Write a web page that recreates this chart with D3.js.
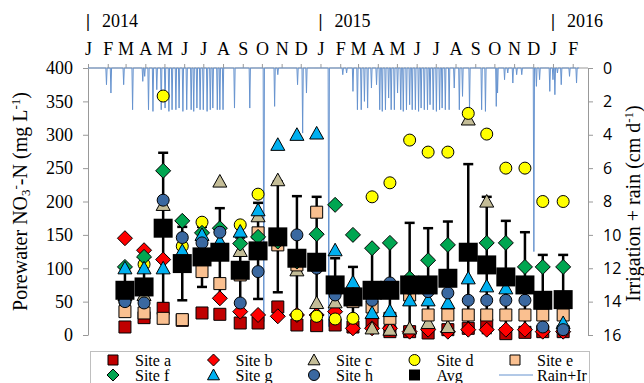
<!DOCTYPE html>
<html lang="en">
<head>
<meta charset="UTF-8" />
<title>Porewater NO3-N and irrigation + rain</title>
<script src="https://d3js.org/d3.v7.min.js"></script>
<style>
  body { margin: 0; background: #fff; }
  svg { display: block; }
  .serif { font-family: "Liberation Serif", "Times New Roman", serif; }
  .sans { font-family: "Open Sans", "Noto Sans", sans-serif; }
</style>
</head>
<body>
<svg id="chart"></svg>
<script>
// sampling dates (one per month)
const sampleDates = [
  "2014-02-28", "2014-03-30", "2014-04-29", "2014-05-29", "2014-06-29", "2014-07-27",
  "2014-08-28", "2014-09-25", "2014-10-26", "2014-11-25", "2014-12-26", "2015-01-24",
  "2015-02-21", "2015-03-23", "2015-04-20", "2015-05-21", "2015-06-19", "2015-07-20",
  "2015-08-21", "2015-09-19", "2015-10-19", "2015-11-18", "2015-12-16", "2016-01-17"
];

// porewater NO3-N, mg/L
const siteA = [12, 26, 40, 22, 33, 31, 18, 18, 42, 15, 14, 15, 12, 18, 5, 5, 3, 8, 10, 15, 2, 4, 5, 5];
const siteB = [145, 127, 113, 110, 118, 55, 35, 30, 28, 30, 30, 35, 10, 10, 10, 5, 8, 5, 8, 8, 8, 8, 5, 5];
const siteC = [60, 60, 195, 120, 115, 230, 126, 178, 232, 97, 48, 49, 60, 10, 8, 10, 18, 12, 323, 200, 85, 75, 55, 50];
const siteD = [50, 106, 358, 133, 169, 120, 165, 211, 145, 30, 28, 24, 25, 207, 228, 292, 274, 274, 332, 301, 250, 250, 200, 200];
const siteE = [35, 33, 25, 23, 95, 77, 90, 153, 135, 105, 184, 70, 50, 42, 25, 60, 30, 30, 30, 30, 30, 30, 30, 30];
const siteF = [102, 117, 246, 171, 153, 160, 137, 147, 140, 110, 151, 195, 150, 130, 138, 85, 112, 135, 125, 138, 138, 102, 102, 102];
const siteG = [100, 100, 100, 126, 150, 140, 155, 187, 285, 300, 302, 127, 79, 33, 36, 52, 52, 48, 85, 73, 70, 72, 50, 18];
const siteH = [50, 48, 202, 146, 138, 154, 48, 95, 145, 150, 100, 60, 55, 52, 78, 70, 65, 63, 52, 52, 52, 52, 12, 8];
const avgNO3 = [67, 72, 160, 107, 117, 124, 97, 126, 147, 115, 109, 75, 57, 67, 67, 75, 75, 85, 124, 105, 87, 75, 52, 53];
const sdNO3 = [35, 30, 113, 55, 45, 66, 49, 72, 83, 93, 98, 40, 45, 63, 70, 93, 85, 85, 132, 102, 84, 79, 68, 67];

// irrigation + rain events, cm/d (other days 0)
const rainEvents = [
  ["2014-01-30", 1.0], ["2014-02-06", 1.5], ["2014-02-26", 1.0], ["2014-03-12", 2.5],
  ["2014-03-28", 0.8], ["2014-03-31", 0.5], ["2014-04-06", 2.5], ["2014-04-13", 2.6],
  ["2014-04-19", 1.3], ["2014-04-26", 2.5], ["2014-05-02", 2.4], ["2014-05-08", 2.6],
  ["2014-05-13", 2.5], ["2014-05-19", 2.5], ["2014-05-24", 2.4], ["2014-05-30", 2.6],
  ["2014-06-05", 2.5], ["2014-06-12", 2.5], ["2014-06-16", 2.6], ["2014-06-21", 2.4],
  ["2014-06-26", 2.5], ["2014-07-01", 2.5], ["2014-07-07", 2.6], ["2014-07-12", 2.5],
  ["2014-07-16", 2.4], ["2014-07-23", 2.5], ["2014-07-27", 2.5], ["2014-08-01", 2.5],
  ["2014-08-19", 2.4], ["2014-09-12", 2.4], ["2014-10-04", 15.2], ["2014-10-21", 2.3],
  ["2014-10-26", 0.4], ["2014-11-26", 1.0], ["2014-12-04", 3.9], ["2014-12-10", 1.5],
  ["2015-01-14", 15.5], ["2015-02-05", 0.4], ["2015-02-11", 0.3], ["2015-02-21", 1.4],
  ["2015-02-28", 2.5], ["2015-03-06", 2.5], ["2015-03-11", 2.0], ["2015-03-16", 2.4],
  ["2015-03-22", 1.2], ["2015-03-30", 1.0], ["2015-04-04", 2.5], ["2015-04-08", 2.6],
  ["2015-04-13", 2.5], ["2015-04-18", 1.8], ["2015-04-22", 2.5], ["2015-04-27", 2.5],
  ["2015-05-02", 1.5], ["2015-05-07", 2.5], ["2015-05-11", 2.6], ["2015-05-16", 2.5],
  ["2015-05-21", 2.2], ["2015-05-25", 2.5], ["2015-05-30", 2.5], ["2015-06-04", 2.6],
  ["2015-06-08", 2.4], ["2015-06-13", 2.5], ["2015-06-18", 2.5], ["2015-06-22", 2.2],
  ["2015-06-27", 2.5], ["2015-07-02", 2.6], ["2015-07-07", 2.5], ["2015-07-11", 2.4],
  ["2015-07-16", 2.5], ["2015-07-22", 2.5], ["2015-07-30", 1.2], ["2015-08-07", 2.5],
  ["2015-08-12", 1.7], ["2015-08-23", 2.5], ["2015-09-11", 2.5], ["2015-09-17", 2.6],
  ["2015-10-04", 2.3], ["2015-10-06", 1.5], ["2015-10-17", 0.7], ["2015-10-22", 0.3],
  ["2015-10-30", 0.9], ["2015-11-05", 0.4], ["2015-11-13", 0.4], ["2015-12-02", 11.0],
  ["2015-12-06", 1.1], ["2015-12-11", 0.7], ["2015-12-27", 1.4], ["2016-01-01", 0.7],
  ["2016-01-04", 1.6], ["2016-01-08", 0.3], ["2016-01-14", 1.0], ["2016-01-27", 0.5],
  ["2016-02-07", 0.9]
];

const monthLetters = ["J", "F", "M", "A", "M", "J", "J", "A", "S", "O", "N", "D"];
const yearLabels = ["2014", "2015", "2016"];
const leftTicks = [0, 50, 100, 150, 200, 250, 300, 350, 400];
const rightTicks = [0, 2, 4, 6, 8, 10, 12, 14, 16];
const siteNames = ["Site a", "Site b", "Site c", "Site d", "Site e", "Site f", "Site g", "Site h"];

// styles
const siteStyle = [
  { shape: "square", fill: "#c00000" },
  { shape: "diamond", fill: "#ff0000" },
  { shape: "triangle", fill: "#c4bd97" },
  { shape: "circle", fill: "#ffff00" },
  { shape: "square", fill: "#fac090" },
  { shape: "diamond", fill: "#00a651" },
  { shape: "triangle", fill: "#00b0f0" },
  { shape: "circle", fill: "#3a68a0" }
];
const markSize = { square: 12, diamond: 15, triangle: 14, circle: 12 };
const legendSize = { square: 10, diamond: 12, triangle: 12, circle: 11 };
const rainColor = "#6693cf";
const axisColor = "#999";

const W = 644, H = 383;
const plot = { left: 88, right: 588, top: 68, bottom: 335 };
const parse = d3.timeParse("%Y-%m-%d");
const fmt = d3.timeFormat("%Y-%m-%d");

const x = d3.scaleTime()
  .domain([parse("2014-01-01"), parse("2016-02-25")])
  .range([plot.left, plot.right]);
const y = d3.scaleLinear().domain([0, 400]).range([plot.bottom, plot.top]);
const yR = d3.scaleLinear().domain([0, 16]).range([plot.top, plot.bottom]);

const svg = d3.select("#chart").attr("width", W).attr("height", H);

function shapePath(type, s) {
  const h = s / 2;
  if (type === "square") return `M${-h},${-h}h${s}v${s}h${-s}Z`;
  if (type === "diamond") return `M0,${-h}L${h},0L0,${h}L${-h},0Z`;
  if (type === "triangle") return `M0,${-h}L${h},${h * 0.8}L${-h},${h * 0.8}Z`;
  return `M${-h},0a${h},${h} 0 1,0 ${s},0a${h},${h} 0 1,0 ${-s},0Z`;
}

function styleAxis(g, cls, size) {
  g.select(".domain").attr("stroke", axisColor);
  g.selectAll(".tick line").attr("stroke", axisColor);
  g.selectAll(".tick text")
    .attr("class", cls)
    .attr("fill", "#000")
    .style("font-size", size + "px");
}

// top month axis
const topAxis = svg.append("g")
  .attr("transform", `translate(0,${plot.top})`)
  .call(d3.axisTop(x)
    .tickValues(d3.timeMonth.range(parse("2014-01-01"), parse("2016-02-02")))
    .tickSize(4).tickSizeOuter(0).tickPadding(9)
    .tickFormat(d => monthLetters[d.getMonth()]));
styleAxis(topAxis, "serif", 18);
topAxis.select(".domain").attr("d", `M${plot.left},0H${plot.right}`);

// year labels
const years = svg.append("g").attr("class", "serif").style("font-size", "18px");
yearLabels.forEach(yr => {
  const px = x(parse(yr + "-01-01"));
  years.append("text").attr("x", px).attr("y", 27).attr("text-anchor", "middle")
    .style("font-weight", "bold").text("|");
  years.append("text").attr("x", px + 14).attr("y", 27).text(yr);
});

// left and right axes
const leftAxis = svg.append("g")
  .attr("transform", `translate(${plot.left},0)`)
  .call(d3.axisLeft(y).tickValues(leftTicks).tickSize(5).tickSizeOuter(0).tickPadding(10));
styleAxis(leftAxis, "serif", 18);

const rightAxis = svg.append("g")
  .attr("transform", `translate(${plot.right},0)`)
  .call(d3.axisRight(yR).tickValues(rightTicks).tickSize(5).tickSizeOuter(0).tickPadding(10));
styleAxis(rightAxis, "sans", 16);

// axis titles
const leftTitle = svg.append("text").attr("class", "serif")
  .attr("transform", `translate(27,${(plot.top + plot.bottom) / 2}) rotate(-90)`)
  .attr("text-anchor", "middle").style("font-size", "20px");
leftTitle.append("tspan").text("Porewater NO");
leftTitle.append("tspan").attr("baseline-shift", "-25%").style("font-size", "13px").text("3");
leftTitle.append("tspan").attr("baseline-shift", "super").style("font-size", "13px").text("-");
leftTitle.append("tspan").text("-N (mg L");
leftTitle.append("tspan").attr("baseline-shift", "super").style("font-size", "13px").text("-1");
leftTitle.append("tspan").text(")");

const rightTitle = svg.append("text").attr("class", "serif")
  .attr("transform", `translate(640,${(plot.top + plot.bottom) / 2 + 2}) rotate(-90)`)
  .attr("text-anchor", "middle").style("font-size", "20px");
rightTitle.append("tspan").text("Irrigation + rain (cm d");
rightTitle.append("tspan").attr("baseline-shift", "super").style("font-size", "13px").text("-1");
rightTitle.append("tspan").text(")");

// rain + irrigation line (secondary axis, reversed)
const rainByDay = new Map(rainEvents);
const rainDaily = d3.timeDay.range(parse("2014-01-01"), parse("2016-02-12"))
  .map(d => ({ date: d, v: rainByDay.get(fmt(d)) || 0 }));
svg.append("path")
  .datum(rainDaily)
  .attr("fill", "none")
  .attr("stroke", rainColor)
  .attr("stroke-width", 1)
  .attr("d", d3.line().x(d => x(d.date)).y(d => yR(d.v)));

// error bars of the average
const avgData = sampleDates.map((d, i) => ({ date: parse(d), avg: avgNO3[i], sd: sdNO3[i] }));
const bars = svg.append("g").attr("stroke", "#000").attr("stroke-width", 2.5);
avgData.forEach(d => {
  const cx = x(d.date);
  const hi = d.avg + d.sd, lo = d.avg - d.sd;
  bars.append("line").attr("x1", cx).attr("x2", cx)
    .attr("y1", y(hi)).attr("y2", y(Math.max(0, lo)));
  bars.append("line").attr("x1", cx - 5).attr("x2", cx + 5).attr("y1", y(hi)).attr("y2", y(hi));
  if (lo > 0) {
    bars.append("line").attr("x1", cx - 5).attr("x2", cx + 5).attr("y1", y(lo)).attr("y2", y(lo));
  }
});

// site markers
const siteValues = [siteA, siteB, siteC, siteD, siteE, siteF, siteG, siteH];
siteValues.forEach((vals, s) => {
  const st = siteStyle[s];
  svg.append("g").selectAll("path")
    .data(vals.map((v, i) => ({ date: parse(sampleDates[i]), v })))
    .join("path")
    .attr("transform", d => `translate(${x(d.date)},${y(d.v)})`)
    .attr("d", shapePath(st.shape, markSize[st.shape]))
    .attr("fill", st.fill)
    .attr("stroke", "#000")
    .attr("stroke-width", 1);
});

// average markers
svg.append("g").selectAll("path")
  .data(avgData)
  .join("path")
  .attr("transform", d => `translate(${x(d.date)},${y(d.avg)})`)
  .attr("d", shapePath("square", 19))
  .attr("fill", "#000");

// legend
const legend = svg.append("g");
legend.append("rect")
  .attr("x", 90.5).attr("y", 351.5).attr("width", 499).attr("height", 40)
  .attr("fill", "#fff").attr("stroke", "#bfbfbf");

const legendItems = siteNames.map((n, i) => ({ name: n, shape: siteStyle[i].shape, fill: siteStyle[i].fill }));
legendItems.splice(8, 0, { name: "Avg", shape: "avg", fill: "#000" });
legendItems.push({ name: "Rain+Ir", shape: "line", fill: rainColor });

legendItems.forEach((it, i) => {
  const col = i % 5, row = Math.floor(i / 5);
  const sx = 113 + col * 100.5, sy = 360 + row * 15;
  if (it.shape === "line") {
    legend.append("line").attr("x1", sx - 16).attr("x2", sx + 18)
      .attr("y1", sy).attr("y2", sy).attr("stroke", it.fill).attr("stroke-width", 1);
  } else if (it.shape === "avg") {
    legend.append("path").attr("transform", `translate(${sx},${sy})`)
      .attr("d", shapePath("square", 11)).attr("fill", "#000");
  } else {
    legend.append("path").attr("transform", `translate(${sx},${sy})`)
      .attr("d", shapePath(it.shape, legendSize[it.shape]))
      .attr("fill", it.fill).attr("stroke", "#000").attr("stroke-width", 1);
  }
  legend.append("text").attr("class", "serif")
    .attr("x", sx + 22).attr("y", sy + 6)
    .style("font-size", "16px")
    .text(it.name);
});
</script>
</body>
</html>
